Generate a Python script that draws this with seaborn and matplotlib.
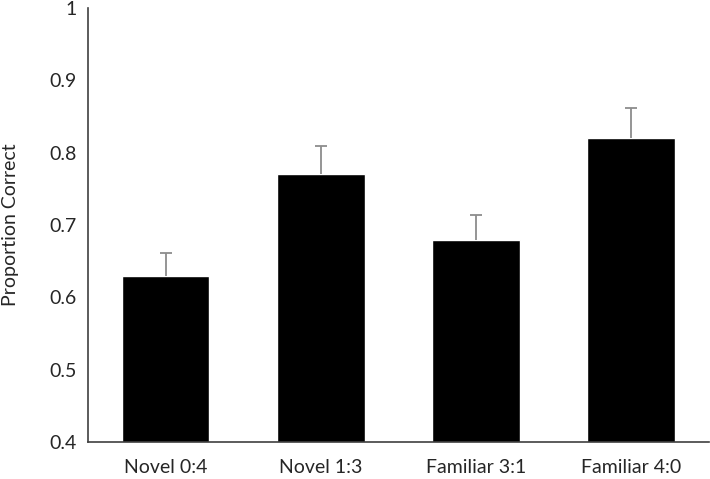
import matplotlib
matplotlib.use('Agg')
import matplotlib.pyplot as plt
import seaborn as sns
import numpy as np
import pandas as pd

conditions = ['Novel 0:4', 'Novel 1:3', 'Familiar 3:1', 'Familiar 4:0']
prop_correct = [0.63, 0.77, 0.68, 0.82]
err_upper = [0.032, 0.039, 0.034, 0.042]

df = pd.DataFrame({'cond': conditions, 'pc': prop_correct})

sns.set_style('white')
plt.rcParams['font.family'] = ['Lato', 'DejaVu Sans']

fig = plt.figure(figsize=(7.1, 4.79), dpi=100)
ax = fig.add_axes([0.124, 0.077, 0.874, 0.906])
sns.barplot(data=df, x='cond', y='pc', color='black', saturation=1, width=0.565,
            errorbar=None, ax=ax)
eb = ax.errorbar(np.arange(len(conditions)), prop_correct,
                 yerr=[np.zeros(len(err_upper)), err_upper], fmt='none',
                 ecolor='#8c8c8c', elinewidth=1.3, capsize=4, capthick=1.3)
# hide the caps at the bar tops
eb[1][0].set_visible(False)

ax.set_ylim(0.4, 1.0)
ax.set_yticks([0.4, 0.5, 0.6, 0.7, 0.8, 0.9, 1.0])
ax.set_yticklabels(['0.4', '0.5', '0.6', '0.7', '0.8', '0.9', '1'])
ax.set_xlim(-0.5, 3.5)
ax.set_xlabel('')
ax.set_ylabel('Proportion Correct', fontsize=14, labelpad=22)
for s in ['top', 'right']:
    ax.spines[s].set_visible(False)
for s in ['left', 'bottom']:
    ax.spines[s].set_color('#404040')
    ax.spines[s].set_linewidth(1.2)
ax.tick_params(axis='y', direction='in', length=7, width=1.2, color='#404040',
               labelsize=14, pad=8)
ax.tick_params(axis='x', length=0, labelsize=14, pad=12)

fig.savefig('out.png', dpi=100)
